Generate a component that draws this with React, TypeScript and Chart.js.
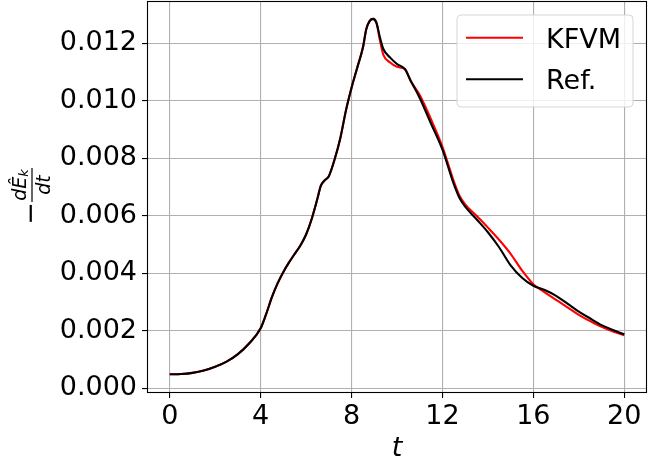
import React, { useEffect, useRef } from "react";
import { Chart, registerables } from "chart.js";

Chart.register(...registerables);

const tValues = [0, 0.5, 1, 1.5, 2, 2.5, 3, 3.5, 4, 4.25, 4.5, 4.75, 5, 5.25, 5.5, 5.75, 6, 6.25, 6.5, 6.65, 6.8, 7, 7.25, 7.5, 7.75, 8, 8.25, 8.5, 8.65, 8.8, 8.95, 9.1, 9.25, 9.4, 9.7, 10, 10.35, 10.6, 11, 11.5, 12, 12.5, 12.75, 13, 13.5, 14, 14.5, 15, 15.5, 16, 16.5, 17, 17.5, 18, 18.5, 19, 19.5, 20];

const refValues = [0.00049, 0.0005, 0.00054, 0.00062, 0.00075, 0.00093, 0.00119, 0.00157, 0.00209, 0.0026, 0.00318, 0.00366, 0.00405, 0.00438, 0.00468, 0.00497, 0.00535, 0.0059, 0.0066, 0.00705, 0.00722, 0.00738, 0.00795, 0.00868, 0.00965, 0.01045, 0.01115, 0.01185, 0.0125, 0.01278, 0.01285, 0.0127, 0.0122, 0.0118, 0.0115, 0.01128, 0.0111, 0.0107, 0.0101, 0.0092, 0.0083, 0.0071, 0.00662, 0.00632, 0.00588, 0.00543, 0.0049, 0.00428, 0.00385, 0.00357, 0.00342, 0.00322, 0.00295, 0.00267, 0.00243, 0.0022, 0.00203, 0.00188];

const kfvmValues = [0.00049, 0.0005, 0.00054, 0.00062, 0.00075, 0.00093, 0.00119, 0.00157, 0.00209, 0.0026, 0.00318, 0.00366, 0.00405, 0.00438, 0.00468, 0.00497, 0.00535, 0.0059, 0.0066, 0.00705, 0.00722, 0.00738, 0.00795, 0.00868, 0.00965, 0.01045, 0.01115, 0.01185, 0.0125, 0.01278, 0.01285, 0.0127, 0.0121, 0.0116, 0.01133, 0.01118, 0.0111, 0.0107, 0.0102, 0.00935, 0.0084, 0.0072, 0.0067, 0.0064, 0.006, 0.00559, 0.00516, 0.00468, 0.0041, 0.00362, 0.00334, 0.00308, 0.00282, 0.00256, 0.00234, 0.00214, 0.00198, 0.00185];

const xTicks = [0, 4, 8, 12, 16, 20];
const yTicks = [0, 0.002, 0.004, 0.006, 0.008, 0.01, 0.012];
const seriesLabels = ["KFVM", "Ref."];
const seriesColors = ["#ff0000", "#000000"];
const xTitle = "t";

const FONT = "'DejaVu Sans', sans-serif";

const decorPlugin = {
  id: "decor",
  afterDatasetsDraw(chart: any) {
    const ctx = chart.ctx;
    const a = chart.chartArea;
    ctx.save();
    // spines
    ctx.strokeStyle = "#000";
    ctx.lineWidth = 1.1;
    ctx.strokeRect(a.left + 0.5, a.top + 0.5, a.right - a.left - 1, a.bottom - a.top - 1);

    // legend
    const bx = 457, by = 15, bw = 176, bh = 92, r = 4;
    ctx.beginPath();
    ctx.moveTo(bx + r, by);
    ctx.lineTo(bx + bw - r, by);
    ctx.quadraticCurveTo(bx + bw, by, bx + bw, by + r);
    ctx.lineTo(bx + bw, by + bh - r);
    ctx.quadraticCurveTo(bx + bw, by + bh, bx + bw - r, by + bh);
    ctx.lineTo(bx + r, by + bh);
    ctx.quadraticCurveTo(bx, by + bh, bx, by + bh - r);
    ctx.lineTo(bx, by + r);
    ctx.quadraticCurveTo(bx, by, bx + r, by);
    ctx.closePath();
    ctx.fillStyle = "rgba(255,255,255,0.8)";
    ctx.fill();
    ctx.strokeStyle = "rgba(204,204,204,0.8)";
    ctx.lineWidth = 1;
    ctx.stroke();
    const rows = [37.7, 79.3];
    ctx.font = `27px ${FONT}`;
    ctx.textAlign = "left";
    ctx.textBaseline = "alphabetic";
    seriesLabels.forEach((lab, i) => {
      ctx.strokeStyle = seriesColors[i];
      ctx.lineWidth = 2.1;
      ctx.beginPath();
      ctx.moveTo(466, rows[i]);
      ctx.lineTo(523, rows[i]);
      ctx.stroke();
      ctx.fillStyle = "#000";
      ctx.fillText(lab, 546, rows[i] + 10);
    });

    // x title
    ctx.font = `italic 27px ${FONT}`;
    ctx.textAlign = "center";
    ctx.fillStyle = "#000";
    ctx.fillText(xTitle, (a.left + a.right) / 2, 456);

    // y title: -dÊ_k/dt
    ctx.translate(32, 185);
    ctx.rotate(-Math.PI / 2);
    ctx.textBaseline = "alphabetic";
    ctx.strokeStyle = "#000";
    ctx.lineWidth = 1.2;
    ctx.beginPath();
    ctx.moveTo(-17, 0);
    ctx.lineTo(17, 0);
    ctx.stroke();
    ctx.font = `italic 19px ${FONT}`;
    ctx.textAlign = "left";
    const numW = ctx.measureText("dÊ").width;
    ctx.font = `italic 13px ${FONT}`;
    const kW = ctx.measureText("k").width;
    const start = -(numW + kW) / 2;
    ctx.font = `italic 19px ${FONT}`;
    ctx.fillText("dÊ", start, -6);
    ctx.font = `italic 13px ${FONT}`;
    ctx.fillText("k", start + numW, -4);
    ctx.font = `italic 19px ${FONT}`;
    ctx.textAlign = "center";
    ctx.fillText("dt", 0, 18);
    ctx.font = `27px ${FONT}`;
    ctx.fillText("\u2212", -28.5, 7);
    ctx.restore();
  },
};

export default function App() {
  const ref = useRef<HTMLCanvasElement | null>(null);
  useEffect(() => {
    document.body.style.margin = "0";
    const canvas = ref.current!;
    const mk = (vals: number[]) => tValues.map((t, i) => ({ x: t, y: vals[i] }));
    const chart = new Chart(canvas, {
      type: "line",
      data: {
        datasets: [
          {
            label: seriesLabels[0],
            data: mk(kfvmValues),
            borderColor: seriesColors[0],
            borderWidth: 2.1,
            pointRadius: 0,
            cubicInterpolationMode: "monotone",
            fill: false,
            order: 2,
          },
          {
            label: seriesLabels[1],
            data: mk(refValues),
            borderColor: seriesColors[1],
            borderWidth: 2.1,
            pointRadius: 0,
            cubicInterpolationMode: "monotone",
            fill: false,
            order: 1,
          },
        ],
      },
      options: {
        responsive: false,
        animation: false,
        devicePixelRatio: 1,
        layout: { padding: { top: 1, right: 2, left: 0, bottom: 0 } },
        plugins: { legend: { display: false }, tooltip: { enabled: false } },
        scales: {
          x: {
            type: "linear",
            min: -1,
            max: 21,
            afterBuildTicks: (axis: any) => {
              axis.ticks = xTicks.map((v) => ({ value: v }));
            },
            afterFit: (axis: any) => {
              axis.height = 65;
              axis.paddingLeft = 0;
              axis.paddingRight = 0;
              axis.paddingTop = 0;
              axis.paddingBottom = 0;
            },
            grid: { color: "#b0b0b0", lineWidth: 1.1, tickColor: "#000", tickLength: 5, drawTicks: true },
            border: { display: false },
            ticks: {
              color: "#000",
              font: { family: FONT, size: 27 },
              padding: 3,
              maxRotation: 0,
              autoSkip: false,
              callback: (v: any) => String(v),
            },
          },
          y: {
            type: "linear",
            min: -0.00016,
            max: 0.01347,
            afterBuildTicks: (axis: any) => {
              axis.ticks = yTicks.map((v) => ({ value: v }));
            },
            afterFit: (axis: any) => {
              axis.width = 147;
              axis.paddingLeft = 0;
              axis.paddingRight = 0;
              axis.paddingTop = 0;
              axis.paddingBottom = 0;
            },
            grid: { color: "#b0b0b0", lineWidth: 1.1, tickColor: "#000", tickLength: 5, drawTicks: true },
            border: { display: false },
            ticks: {
              color: "#000",
              font: { family: FONT, size: 27 },
              padding: 5,
              autoSkip: false,
              callback: (v: any) => Number(v).toFixed(3),
            },
          },
        },
      },
      plugins: [decorPlugin],
    } as any);
    return () => chart.destroy();
  }, []);
  return (
    <div style={{ position: "fixed", left: 0, top: 0, width: 649, height: 458 }}>
      <canvas ref={ref} width={649} height={458} style={{ width: 649, height: 458, display: "block" }} />
    </div>
  );
}
